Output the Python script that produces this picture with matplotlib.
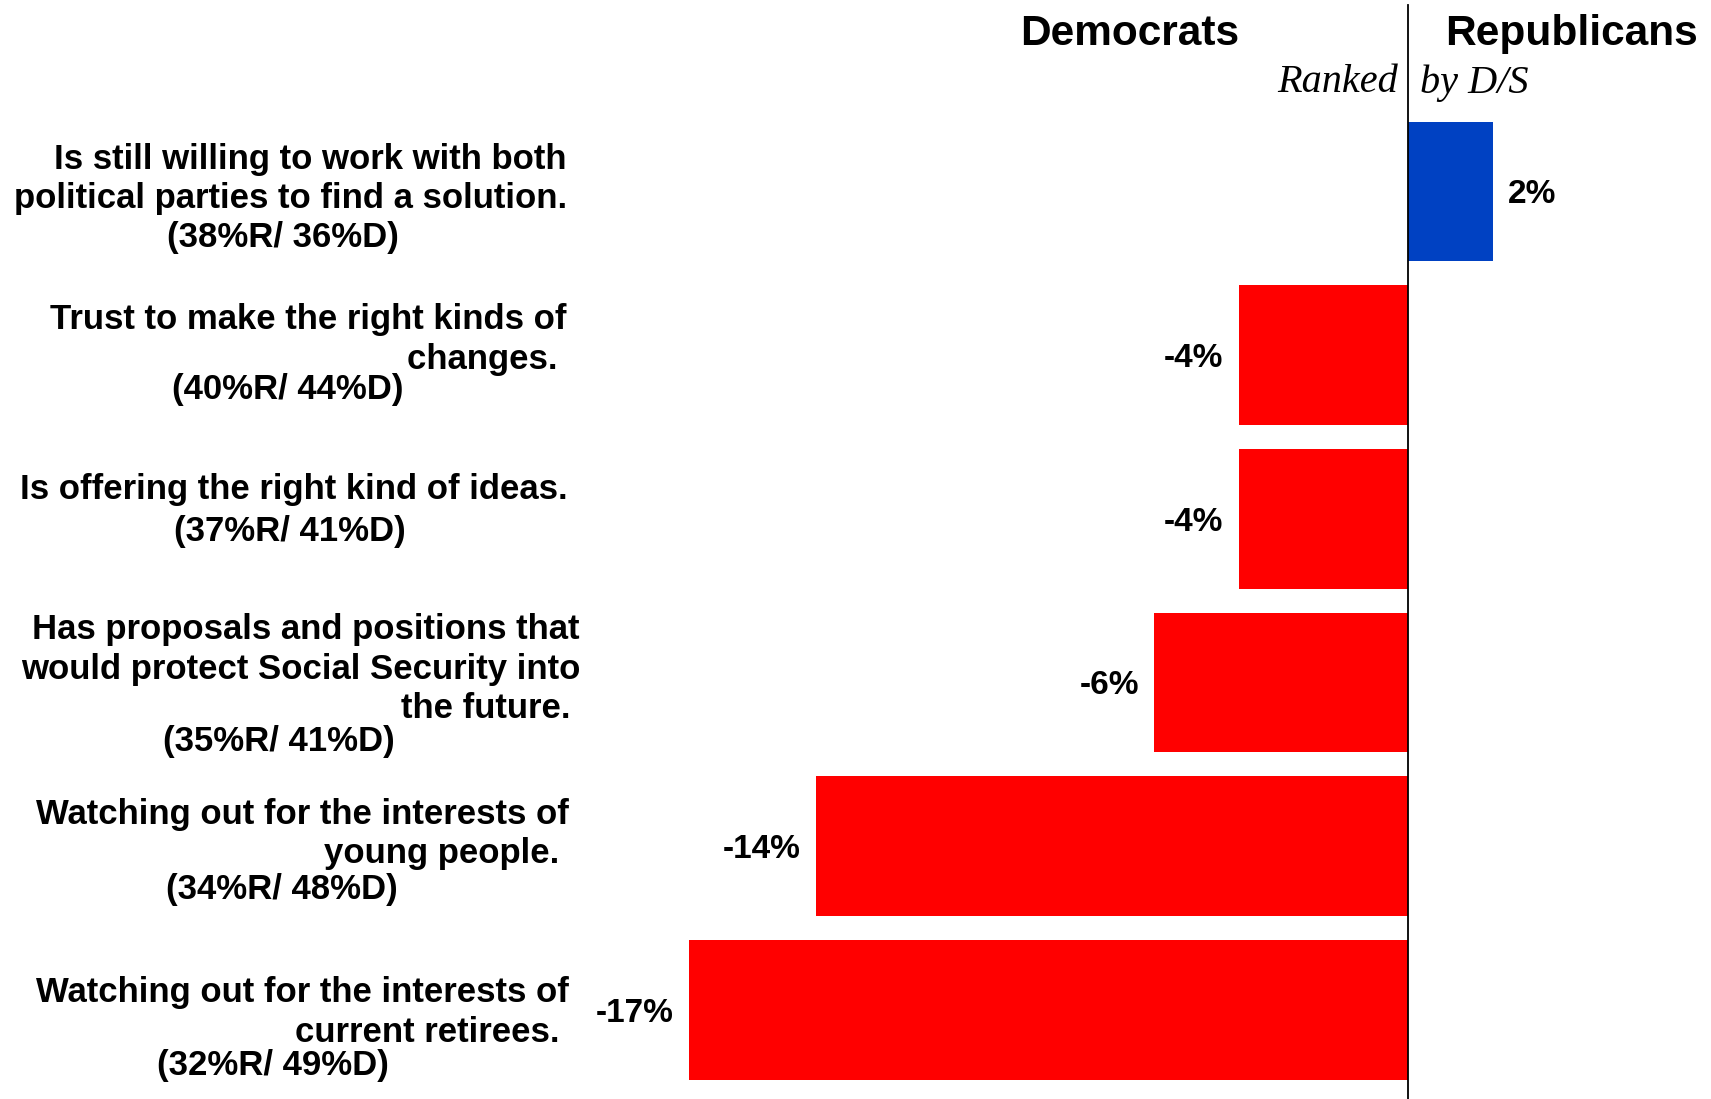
from matplotlib import pyplot as plt
import numpy as np

# data
labels = [
    "Is still willing to work with both\npolitical parties to find a solution.",
    "Trust to make the right kinds of\nchanges. ",
    "Is offering the right kind of ideas.",
    "Has proposals and positions that\nwould protect Social Security into\nthe future. ",
    "Watching out for the interests of\nyoung people. ",
    "Watching out for the interests of\ncurrent retirees. ",
]
rep_pct = [38, 40, 37, 35, 34, 32]
dem_pct = [36, 44, 41, 41, 48, 49]
diff = [2, -4, -4, -6, -14, -17]

W, H = 1711, 1099
px_per_unit = 42.3
zero_px = 1408
pitch = 163.7
first_center = 191.5

fig = plt.figure(figsize=(W / 100, H / 100), dpi=100)
ax = fig.add_axes([0, 0, 1, 1])
ax.axis("off")
ax.set_xlim(-zero_px / px_per_unit, (W - zero_px) / px_per_unit)
ax.set_ylim((H - first_center) / pitch, -first_center / pitch)

ypos = np.arange(len(diff))
colors = ["#0041C2" if d > 0 else "#FF0000" for d in diff]
ax.barh(ypos, diff, height=0.853, color=colors)
ax.axvline(0, ymin=0, ymax=0.995, color="black", lw=1.3)

narrow = ["Liberation Sans Narrow", "Liberation Sans"]
for i, d in enumerate(diff):
    off = 0.36 if d > 0 else -0.36
    ax.text(d + off, i + 0.02, f"{d}%", ha="left" if d > 0 else "right", va="center",
            fontsize=24, fontweight="bold", family=narrow)

# category labels (pixel layout)
label_right = [567, 567, 568, 580, 569, 569]
label_top = [143, 303, 473, 613, 798, 976]
pct_x = [283, 288, 290, 279, 282, 273]
pct_y = [237, 390, 532, 742, 889, 1065]
for i, lab in enumerate(labels):
    fig.text(label_right[i] / W, 1 - label_top[i] / H, lab, ha="right", va="top",
             multialignment="right", fontsize=25, fontweight="bold",
             family="Liberation Sans", linespacing=1.25)
    fig.text(pct_x[i] / W, 1 - pct_y[i] / H, f"({rep_pct[i]}%R/ {dem_pct[i]}%D)",
             ha="center", va="center", fontsize=25, fontweight="bold",
             family="Liberation Sans")

fig.text(1130 / W, 1 - 34 / H, "Democrats", ha="center", va="center",
         fontsize=30.5, fontweight="bold", family="Liberation Sans")
fig.text(1572 / W, 1 - 34 / H, "Republicans", ha="center", va="center",
         fontsize=30.5, fontweight="bold", family="Liberation Sans")
fig.text(1398 / W, 1 - 83 / H, "Ranked", ha="right", va="center",
         fontsize=29, style="italic", family="Liberation Serif")
fig.text(1420 / W, 1 - 83 / H, "by D/S", ha="left", va="center",
         fontsize=29, style="italic", family="Liberation Serif")

plt.savefig("out.png", dpi=100, facecolor="white")
